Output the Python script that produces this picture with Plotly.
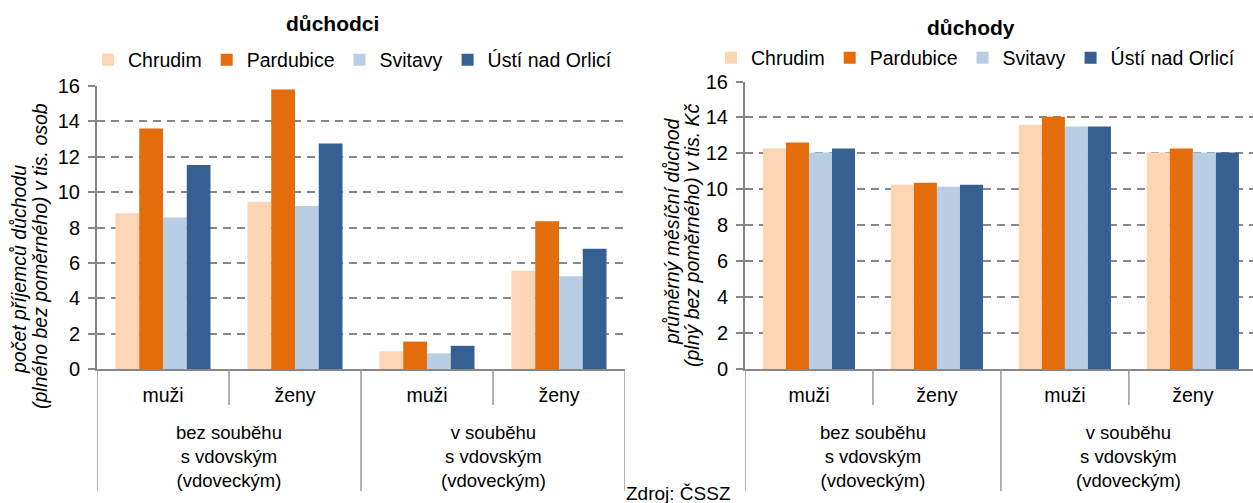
import plotly.graph_objects as go

# ---------------- data ----------------
districts = ["Chrudim", "Pardubice", "Svitavy", "Ústí nad Orlicí"]
colors = ["#FCD5B5", "#E46C0A", "#B9CDE5", "#376092"]
categories = ["muži", "ženy", "muži", "ženy"]
groups = ["bez souběhu<br>s vdovským<br>(vdoveckým)", "v souběhu<br>s vdovským<br>(vdoveckým)"]

# počet příjemců (tis. osob) – per district, order of categories
duchodci = {
    "Chrudim":         [8.8, 9.45, 1.0, 5.55],
    "Pardubice":       [13.6, 15.8, 1.55, 8.36],
    "Svitavy":         [8.57, 9.22, 0.88, 5.24],
    "Ústí nad Orlicí": [11.53, 12.75, 1.31, 6.8],
}
# průměrný důchod (tis. Kč)
duchody = {
    "Chrudim":         [12.27, 10.25, 13.6, 12.05],
    "Pardubice":       [12.6, 10.36, 14.04, 12.27],
    "Svitavy":         [12.05, 10.14, 13.5, 12.05],
    "Ústí nad Orlicí": [12.27, 10.25, 13.5, 12.05],
}
y_ticks = [0, 2, 4, 6, 8, 10, 12, 14, 16]

# ---------------- figure ----------------
W, H = 1253, 503
FONT = "Liberation Sans, Arial, sans-serif"
GRAY = "#878787"

def px_x(p):
    return p / W

def px_y(p):
    return (H - p) / H

xpos = list(range(len(categories)))

fig = go.Figure()
for name, col in zip(districts, colors):
    fig.add_trace(go.Bar(x=xpos, y=duchodci[name], name=name, marker_color=col,
                         marker_line_width=0, xaxis="x", yaxis="y", legend="legend"))
for name, col in zip(districts, colors):
    fig.add_trace(go.Bar(x=xpos, y=duchody[name], name=name, marker_color=col,
                         marker_line_width=0, xaxis="x2", yaxis="y2", legend="legend2"))

common_x = dict(tickvals=xpos, ticktext=categories, showgrid=False, zeroline=False,
                showline=True, linecolor=GRAY, linewidth=2, ticks="", automargin=False,
                tickfont=dict(family=FONT, size=19.5, color="#000"), ticklabelstandoff=8,
                fixedrange=True)
common_y = dict(tickvals=y_ticks, showgrid=True, gridcolor=GRAY, gridwidth=1.8,
                griddash="8px,6px", zeroline=False, showline=True, linecolor=GRAY,
                linewidth=2, ticks="outside", ticklen=7, tickwidth=2, tickcolor=GRAY,
                tickfont=dict(family=FONT, size=20, color="#000"), automargin=False,
                ticklabelstandoff=4, fixedrange=True)

fig.update_layout(
    width=W, height=H,
    margin=dict(l=0, r=0, t=0, b=0),
    paper_bgcolor="white", plot_bgcolor="white",
    barmode="group", bargap=0.28, bargroupgap=0,
    font=dict(family=FONT, size=19, color="#000"),
    xaxis=dict(domain=[px_x(97), px_x(625)], range=[-0.5, 3.5], anchor="y", **common_x),
    yaxis=dict(domain=[px_y(369), px_y(86)], range=[0, 16], anchor="x", **common_y),
    xaxis2=dict(domain=[px_x(745), 1.0], range=[-0.5, 3.47], anchor="y2", **common_x),
    yaxis2=dict(domain=[px_y(369), px_y(81.5)], range=[0, 16], anchor="x2", **common_y),
    legend=dict(orientation="h", x=px_x(88), y=px_y(60), xanchor="left", yanchor="middle",
                font=dict(family=FONT, size=19.5), itemwidth=30, bgcolor="rgba(0,0,0,0)",
                traceorder="normal", itemclick=False, itemdoubleclick=False),
    legend2=dict(orientation="h", x=px_x(711), y=px_y(58), xanchor="left", yanchor="middle",
                 font=dict(family=FONT, size=19.5), itemwidth=30, bgcolor="rgba(0,0,0,0)",
                 traceorder="normal", itemclick=False, itemdoubleclick=False),
)

shapes = []
annotations = []
for xa in ("x", "x2"):
    # category separators below the axis
    for b in [-0.5, 0.5, 1.5, 2.5, 3.5]:
        outer = b in (-0.5, 1.5, 3.5)
        shapes.append(dict(type="line", xref=xa, yref="paper", x0=b, x1=b,
                           y0=px_y(369), y1=px_y(491 if outer else 405),
                           line=dict(color="#999999", width=1.5)))
    # group labels
    for gi, g in enumerate(groups):
        annotations.append(dict(xref=xa, yref="paper", x=gi * 2 + 0.5, y=px_y(457),
                                text=g, showarrow=False, xanchor="center", yanchor="middle",
                                font=dict(family=FONT, size=18.5, color="#000")))

# titles
annotations.append(dict(xref="paper", yref="paper", x=px_x(333), y=px_y(23), text="<b>důchodci</b>",
                        showarrow=False, xanchor="center", yanchor="middle",
                        font=dict(family=FONT, size=21, color="#000")))
annotations.append(dict(xref="paper", yref="paper", x=px_x(971), y=px_y(27), text="<b>důchody</b>",
                        showarrow=False, xanchor="center", yanchor="middle",
                        font=dict(family=FONT, size=21, color="#000")))

# y-axis titles
ytitle_items = [
    ("počet příjemců důchodu", 19, 270),
    ("(plného bez poměrného) v tis. osob", 40, 256),
    ("průměrný měsíční důchod", 672, 231),
    ("(plný bez poměrného) v tis. Kč", 692, 235),
]
for txt, xc, yc in ytitle_items:
    annotations.append(dict(xref="paper", yref="paper", x=px_x(xc), y=px_y(yc),
                            text="<i>" + txt + "</i>", textangle=-90, showarrow=False,
                            xanchor="center", yanchor="middle",
                            font=dict(family=FONT, size=19.5, color="#000")))

# source
annotations.append(dict(xref="paper", yref="paper", x=px_x(624), y=px_y(493), text="Zdroj: ČSSZ",
                        showarrow=False, xanchor="left", yanchor="middle",
                        font=dict(family=FONT, size=19, color="#000")))

fig.update_layout(shapes=shapes, annotations=annotations)

fig.write_html("out.html", config={"displayModeBar": False},
               post_script="document.body.style.margin='0';document.body.style.overflow='hidden';")
